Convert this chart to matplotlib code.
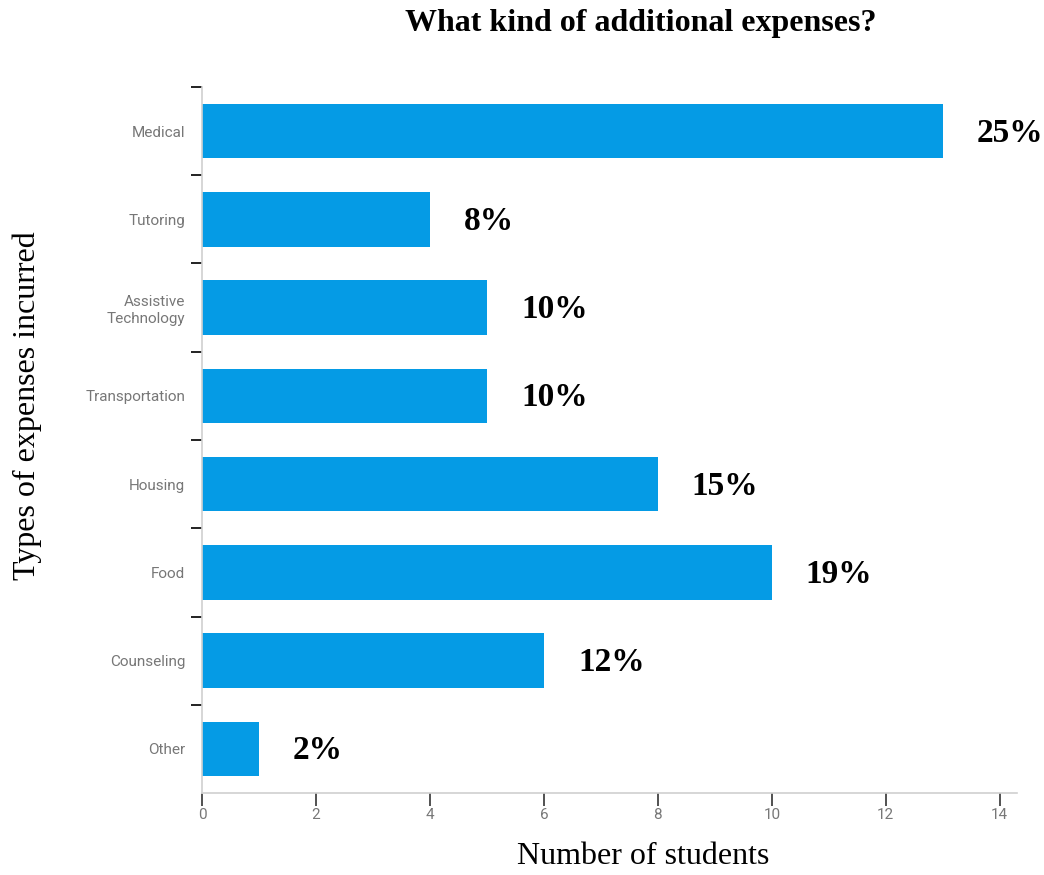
import matplotlib.pyplot as plt
from matplotlib.ticker import FixedLocator

# Expense categories and how many students reported each one
categorie = ["Medical", "Tutoring", "Assistive\nTechnology", "Transportation",
             "Housing", "Food", "Counseling", "Other"]
studenti = [13, 4, 5, 5, 8, 10, 6, 1]
percentuali = ["25%", "8%", "10%", "10%", "15%", "19%", "12%", "2%"]
xticks = [0, 2, 4, 6, 8, 10, 12, 14]

COLORE_BARRE = "#059BE5"
SERIF = ["Liberation Serif", "DejaVu Serif"]
NARROW = ["Liberation Sans Narrow", "Roboto", "DejaVu Sans"]


def main():
    fig = plt.figure(figsize=(10.44, 8.75), dpi=100)
    ax = fig.add_axes([0.1935, 0.0937, 0.7805, 0.8069])

    pos = list(range(len(categorie)))
    ax.barh(pos, studenti, height=0.62, color=COLORE_BARRE, zorder=2)

    for y, v, testo in zip(pos, studenti, percentuali):
        ax.annotate(testo, xy=(v, y), xytext=(34, -2), textcoords="offset pixels",
                    ha="left", va="center", fontsize=24, fontweight="bold",
                    family=SERIF, color="black")

    ax.set_ylim(len(categorie) - 0.5, -0.5)
    ax.set_xlim(0, 14.3)

    # labels on the categories, short dark marks between them
    ax.set_yticks(pos)
    ax.set_yticklabels(categorie, family=NARROW, fontsize=11, color="#777777",
                       linespacing=1.3)
    ax.tick_params(axis="y", which="major", length=0, pad=12)
    ax.yaxis.set_minor_locator(FixedLocator([p - 0.5 for p in pos]))
    ax.tick_params(axis="y", which="minor", length=8, width=1.4,
                   color="#222222", pad=0)

    ax.set_xticks(xticks)
    ax.set_xticklabels([str(t) for t in xticks], family=NARROW, fontsize=11,
                       color="#777777")
    ax.tick_params(axis="x", length=9, width=1.2, color="#333333", pad=2)

    for lato in ("top", "right"):
        ax.spines[lato].set_visible(False)
    for lato in ("left", "bottom"):
        ax.spines[lato].set_color("#d0d0d0")
        ax.spines[lato].set_linewidth(1.2)

    fig.text(0.614, 0.973, "What kind of additional expenses?", ha="center",
             va="center", fontsize=23, fontweight="bold", family=SERIF)
    fig.text(0.616, 0.021, "Number of students", ha="center", va="center",
             fontsize=23, family=SERIF)
    fig.text(0.026, 0.536, "Types of expenses incurred", ha="center",
             va="center", rotation=90, fontsize=23, family=SERIF)

    fig.savefig("out.png", dpi=100)


if __name__ == "__main__":
    main()
